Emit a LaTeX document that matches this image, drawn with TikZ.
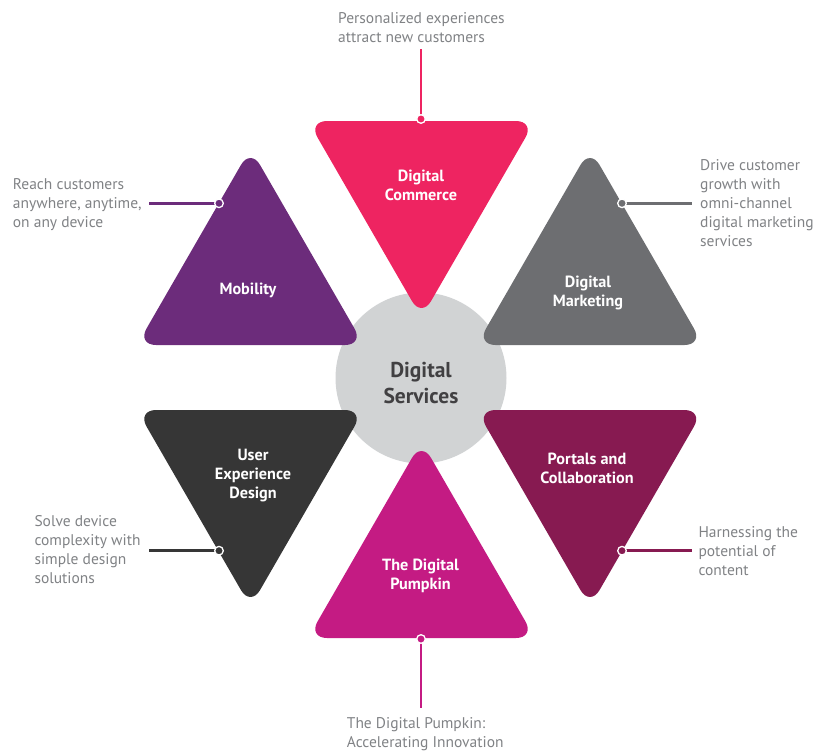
\documentclass[tikz,border=0pt]{standalone}
\usepackage{fontspec}
\setmainfont{PT Sans}
\definecolor{ccommerce}{HTML}{EE2461}
\definecolor{cmobility}{HTML}{6C2C7B}
\definecolor{cmarketing}{HTML}{6D6E71}
\definecolor{cux}{HTML}{363636}
\definecolor{cportals}{HTML}{871A51}
\definecolor{cpumpkin}{HTML}{C41B83}
\definecolor{circgray}{HTML}{D1D3D4}
\definecolor{labelgray}{HTML}{808285}
\definecolor{centertext}{HTML}{414042}
\begin{document}
\begin{tikzpicture}[x=1pt,y=-1pt,
  tri/.style={rounded corners=19pt},
  lbl/.style={font=\fontsize{15.5}{19}\selectfont, text=labelgray, align=left, inner sep=0pt, anchor=north west},
  tlbl/.style={font=\bfseries\fontsize{16.2}{19}\selectfont, text=white, align=center, inner sep=0pt, anchor=north},
  lead/.style={line width=2.6pt},
  dotc/.style={draw=white, line width=1.3pt}]
\useasboundingbox (0,0) rectangle (814,750);
% centre
\fill[circgray] (421,378) circle (85.5pt);
\node[font=\bfseries\fontsize{21.5}{26}\selectfont, text=centertext, align=center, inner sep=0pt, anchor=north] (centre) at (421,362.3) {Digital\\Services};
% triangles
\fill[ccommerce,tri] (308,121) -- (535,121) -- (421.5,317.6) -- cycle;
\fill[cmobility,tri] (137,345) -- (364,345) -- (250.5,148.4) -- cycle;
\fill[cmarketing,tri] (476.5,345) -- (703.5,345) -- (590,148.4) -- cycle;
\fill[cux,tri] (137,410) -- (364,410) -- (250.5,606.6) -- cycle;
\fill[cportals,tri] (476.5,410) -- (703.5,410) -- (590,606.6) -- cycle;
\fill[cpumpkin,tri] (308,638) -- (535,638) -- (421.5,441.4) -- cycle;
% triangle labels
\node[tlbl] (tcommerce) at (421,169.8) {Digital\\Commerce};
\node[tlbl] (tmobility) at (248,282.6) {Mobility};
\node[tlbl] (tmarketing) at (588,276) {Digital\\Marketing};
\node[tlbl] (tux) at (253,448.6) {User\\Experience\\Design};
\node[tlbl] (tportals) at (587,452.6) {Portals and\\Collaboration};
\node[tlbl] (tpumpkin) at (420.5,558.3) {The Digital\\Pumpkin};
% dots and leader ends
\coordinate (dcommerce) at (421,119);
\coordinate (ecommerce) at (421,49);
\coordinate (dmobility) at (219,203.3);
\coordinate (emobility) at (149,203.3);
\coordinate (dmarketing) at (622,203.3);
\coordinate (emarketing) at (692,203.3);
\coordinate (dux) at (219,550.7);
\coordinate (eux) at (149,550.7);
\coordinate (dportals) at (622,550.7);
\coordinate (eportals) at (692,550.7);
\coordinate (dpumpkin) at (421,639);
\coordinate (epumpkin) at (421,708);
\draw[lead,ccommerce] (dcommerce) -- (ecommerce);
\draw[lead,cmobility] (dmobility) -- (emobility);
\draw[lead,cmarketing] (dmarketing) -- (emarketing);
\draw[lead,cux] (dux) -- (eux);
\draw[lead,cportals] (dportals) -- (eportals);
\draw[lead,cpumpkin] (dpumpkin) -- (epumpkin);
\filldraw[dotc,fill=ccommerce] (dcommerce) circle (4.3pt);
\filldraw[dotc,fill=cmobility] (dmobility) circle (4.3pt);
\filldraw[dotc,fill=cmarketing] (dmarketing) circle (4.3pt);
\filldraw[dotc,fill=cux] (dux) circle (4.3pt);
\filldraw[dotc,fill=cportals] (dportals) circle (4.3pt);
\filldraw[dotc,fill=cpumpkin] (dpumpkin) circle (4.3pt);
% outer labels
\node[lbl] (lcommerce) at (338,12.1) {Personalized experiences\\attract new customers};
\node[lbl] (lmobility) at (12.7,178.8) {Reach customers\\anywhere, anytime,\\on any device};
\node[lbl] (lmarketing) at (700,159.1) {Drive customer\\growth with\\omni-channel\\digital marketing\\services};
\node[lbl] (lux) at (34.3,514.8) {Solve device\\complexity with\\simple design\\solutions};
\node[lbl] (lportals) at (698.3,526.1) {Harnessing the\\potential of\\content};
\node[lbl] (lpumpkin) at (346.7,717.1) {The Digital Pumpkin:\\Accelerating Innovation};
\end{tikzpicture}
\end{document}
